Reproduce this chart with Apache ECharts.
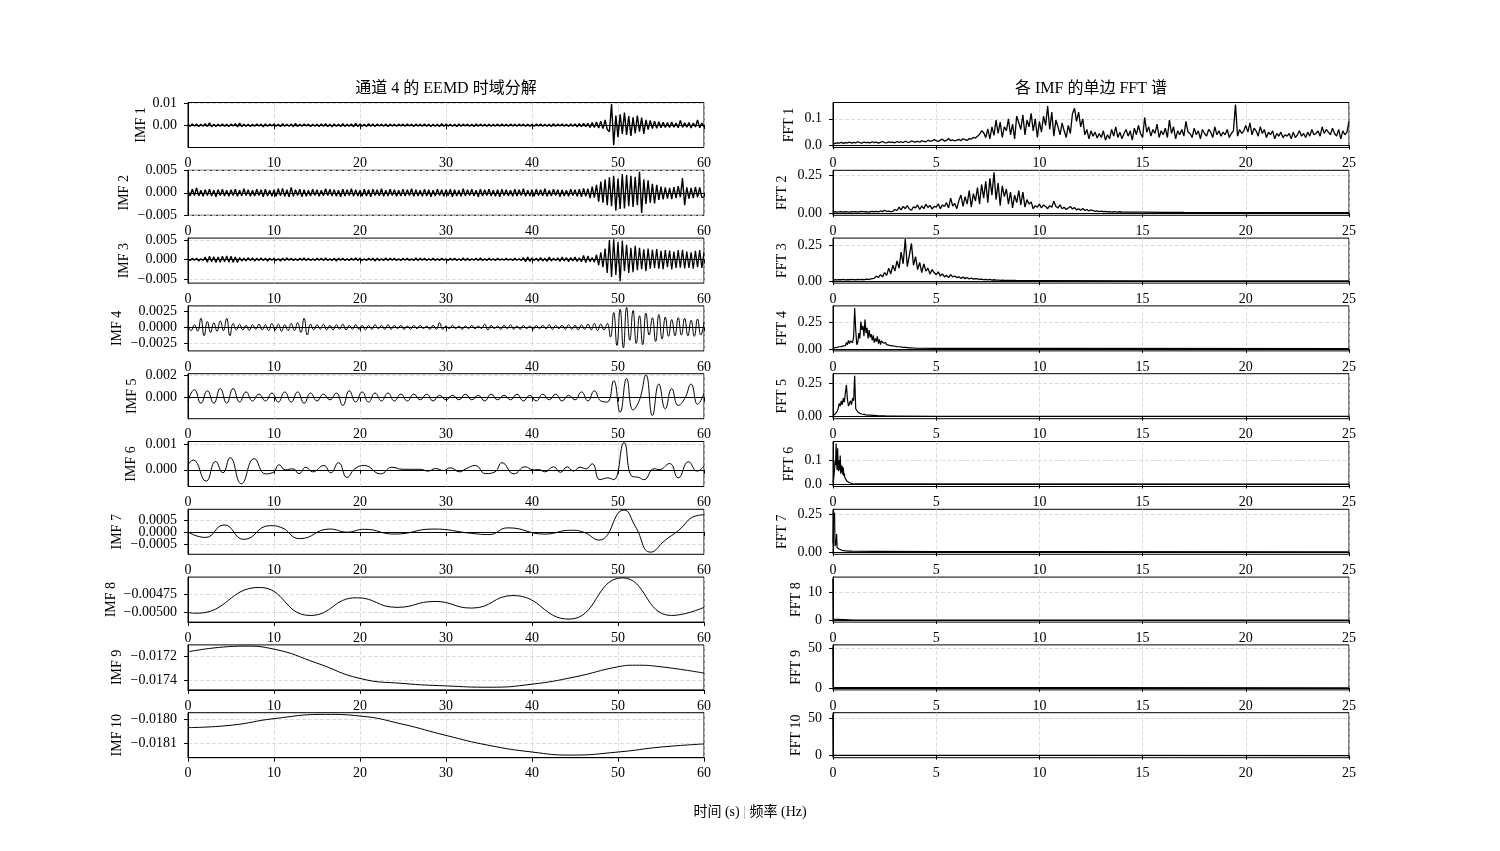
<!DOCTYPE html>
<html>
<head>
<meta charset="utf-8">
<title>EEMD</title>
<script src="https://cdn.jsdelivr.net/npm/echarts@6/dist/echarts.min.js"></script>
<style>
  html, body { margin: 0; padding: 0; background: #fff; }
  #chart { width: 1500px; height: 851px; }
</style>
</head>
<body>
<div id="chart"></div>
<script>
// ---- data ----
// IMF values are in units of 1e-4, FFT1-7 in units of 1e-3, FFT8-10 raw
const imfNames = ["IMF 1", "IMF 2", "IMF 3", "IMF 4", "IMF 5", "IMF 6", "IMF 7", "IMF 8", "IMF 9", "IMF 10"];
const fftNames = ["FFT 1", "FFT 2", "FFT 3", "FFT 4", "FFT 5", "FFT 6", "FFT 7", "FFT 8", "FFT 9", "FFT 10"];

// IMF1-3 sampled every 0.25 s
const imf1 = [
  4,-5,6,-4,5,-6,4,-5,7,-6,11,-7,5,-6,4,-5,6,-5,5,-6,
  5,-4,7,-8,10,-6,5,-5,4,-6,5,-5,6,-4,5,-7,6,-5,5,-4,
  6,-5,5,-6,7,-5,4,-5,6,-7,8,-6,5,-5,6,-4,5,-6,4,-5,
  5,-6,6,-5,7,-6,5,-7,6,-5,5,-6,7,-6,5,-5,6,-7,8,-6,
  6,-5,5,-6,7,-5,6,-6,5,-4,5,-5,6,-6,5,-4,4,-5,5,-4,
  5,-5,6,-4,5,-6,5,-4,4,-5,6,-5,5,-6,4,-5,5,-6,7,-5,
  5,-4,4,-5,5,-6,6,-5,5,-4,5,-5,4,-6,6,-5,5,-4,4,-5,
  5,-5,4,-4,5,-5,6,-4,4,-5,5,-4,4,-5,5,-4,5,-5,4,-4,
  4,-5,5,-4,6,-5,4,-5,5,-6,7,-5,5,-4,6,-5,5,-6,6,-5,
  6,-7,7,-6,8,-7,9,-10,12,-11,15,-13,18,-16,24,-20,-30,98,-92,45,
  -55,50,-40,58,-45,42,-50,36,-38,45,-30,35,-40,25,-20,22,-15,18,-14,16,
  -12,14,-10,12,-11,15,-9,10,-12,22,-10,11,-9,12,-13,10,-8,24,-12,10,
  -8
];
const imf2 = [
  5,-7,8,-6,11,-7,6,-8,7,-6,8,-7,6,-9,7,-6,8,-7,6,-8,
  7,-6,8,-8,6,-7,9,-6,7,-8,6,-7,8,-6,7,-9,8,-7,6,-8,
  7,-8,9,-7,10,-8,7,-9,12,-8,7,-6,8,-9,7,-8,6,-7,8,-6,
  7,-8,6,-7,9,-6,8,-7,7,-8,6,-9,8,-7,7,-6,9,-8,7,-7,
  6,-8,8,-7,7,-9,8,-6,7,-7,9,-8,6,-7,8,-6,7,-8,6,-7,
  8,-7,7,-6,9,-8,7,-7,6,-8,8,-7,7,-9,6,-7,8,-6,7,-8,
  7,-6,8,-9,7,-7,6,-8,9,-7,7,-6,8,-7,6,-9,8,-7,7,-6,
  8,-7,6,-8,7,-9,8,-6,7,-7,6,-8,8,-7,7,-6,9,-8,6,-7,
  7,-8,8,-6,7,-7,9,-8,6,-7,8,-6,7,-9,7,-7,6,-8,8,-6,
  7,-8,8,-9,10,-8,9,-12,14,-11,18,-20,25,-22,30,-28,35,-30,38,-40,
  32,-36,42,-35,40,-30,38,-32,36,-28,47,-45,30,-25,28,-22,20,-24,18,-16,
  14,-15,12,-13,11,-14,13,-12,15,-10,33,-28,12,-13,11,-12,13,-10,12,-11,
  -9
];
const imf3 = [
  2,-3,3,-2,3,-4,2,-3,6,-7,8,-6,7,-8,6,-7,8,-6,9,-7,
  8,-7,6,-8,5,-4,3,-4,5,-3,4,-4,3,-3,4,-3,3,-4,3,-2,
  3,-3,2,-4,3,-3,4,-2,3,-3,2,-3,3,-2,4,-3,3,-3,2,-3,
  3,-2,3,-3,4,-3,2,-3,3,-4,3,-2,3,-3,2,-3,3,-2,4,-3,
  3,-3,2,-3,3,-2,3,-4,3,-3,2,-3,4,-3,3,-2,3,-3,2,-3,
  3,-2,3,-3,2,-3,4,-3,3,-2,3,-3,2,-2,3,-3,2,-3,3,-2,
  2,-3,3,-2,3,-3,2,-3,4,-3,3,-3,2,-2,3,-3,4,-3,2,-3,
  3,-2,2,-3,3,-2,2,-2,3,-2,2,-3,3,-2,2,-3,5,-6,6,-5,
  4,-3,3,-4,5,-4,3,-5,6,-4,3,-3,4,-5,6,-4,5,-6,5,-4,
  6,-5,4,-6,10,-8,9,-6,5,-7,12,-15,18,-20,28,-35,50,-45,52,-40,
  45,-56,48,-30,38,-35,30,-33,35,-28,30,-25,26,-30,28,-24,25,-22,27,-24,
  22,-25,24,-20,23,-26,20,-22,24,-21,25,-23,20,-22,18,-24,22,-20,24,-22,
  18
];
// IMF4 extrema every 0.375 s
const imf4 = [
  2,-5,4,-6,14,-13,9,-8,
  7,-6,10,-5,14,-13,6,-4,
  5,-4,3,-5,4,-3,5,-4,
  4,-5,6,-4,5,-6,4,-5,
  6,-5,7,-8,14,-12,5,-4,
  4,-3,5,-4,3,-4,4,-3,
  5,-4,3,-3,4,-3,3,-4,
  3,-3,4,-2,3,-3,4,-3,
  3,-2,3,-3,2,-3,3,-2,
  3,-2,2,-3,3,-3,7,-3,
  2,-2,3,-2,2,-3,2,-2,
  3,-2,2,-2,5,-4,3,-2,
  2,-3,3,-2,4,-3,2,-3,
  3,-2,2,-3,3,-2,3,-2,
  4,-3,3,-2,3,-3,4,-3,
  3,-4,4,-3,5,-4,6,-5,
  5,-4,6,-15,23,-28,28,-32,
  31,-20,26,-25,18,-27,22,-12,
  15,-22,20,-18,16,-14,12,-13,
  15,-12,14,-13,11,-14,13,-12,
  8
];
// IMF5 extrema every 0.75 s
const imf5 = [
  -3,7,-5,6,-5,8,-5,8,-4,5,
  -3,3,-3,4,-4,5,-4,5,-5,4,
  -3,3,-2,4,-7,6,-4,5,-4,4,
  -3,4,-3,3,-3,3,-2,3,-3,2,
  -2,2,-2,3,-2,2,-3,3,-2,2,
  -2,3,-3,2,-3,3,-2,3,-3,2,
  -2,5,-3,6,-3,-4,15,-13,17,-11,
  -2,20,-16,12,-10,8,-7,-1,12,-6,4
];
// IMF6-10 as [time s, value]
const imf6 = [[0,2],[0.6,3.9],[2.1,-4.5],[3.2,3.3],[4.05,-1.2],[4.9,4.8],[6.2,-5.5],[7.7,4.4],[9.0,-1.6],[9.9,-1.0],
  [10.6,2.0],[11.3,0],[12.2,0.4],[12.9,-1.5],[13.7,1.0],[14.5,-0.8],[15.8,1.7],[16.6,-1.2],[17.5,2.8],[18.5,-3.0],
  [19.4,0.4],[20.5,1.7],[22.4,-1.6],[23.7,1.0],[25,0.2],[27,0.2],[27.9,-0.5],[28.8,0.5],[29.7,-0.3],[30.5,0.8],
  [31.6,-0.8],[32.3,0.4],[33.4,1.7],[34.6,-1.5],[35.7,-0.8],[36.5,2.8],[37.9,-1.6],[39.2,1.2],[40.1,0],[40.8,0.1],
  [41.5,-0.8],[42.5,1.2],[43.3,-1.0],[44.1,1.2],[44.8,-0.5],[45.6,1.0],[46.3,0.4],[47.0,2.4],[47.9,-3.9],[48.8,-3.2],
  [49.5,-3.9],[50.7,10.8],[51.6,-2.5],[52.4,-3.0],[53.0,-3.9],[54.2,0.4],[54.8,0.1],[56.0,2.5],[57.0,-3.2],[58.2,3.2],
  [59.2,-0.5],[60,1.5]];
const imf7 = [[0,0],[2,-2.2],[4.2,3],[6.5,-3],[9.5,2.7],[10.8,2],[13,-2.7],[16.5,1.3],[18.5,0],[20.5,1.2],
  [24,-0.8],[28.5,1.3],[33,-0.5],[35,-1],[37.2,1.8],[41.5,-0.8],[44.5,0.8],[46,0],[47.8,-3.3],[50.7,9.2],
  [52,2.5],[53.8,-8.3],[55.5,-3.3],[57,0.6],[59,6.7],[60,7.2]];
const imf8 = [[0,-50],[1,-50.1],[8.3,-46.6],[14.2,-50.4],[19.6,-48],[24.3,-49.3],[28.7,-48.5],[33,-49.4],
  [37.8,-47.7],[44.3,-50.9],[50.5,-45.3],[56.2,-50.4],[60,-49.3]];
const imf9 = [[0,-171.67],[6.5,-171.2],[10,-171.45],[15,-172.6],[20,-173.86],[25,-174.27],[30,-174.47],
  [35,-174.58],[40,-174.33],[45,-173.73],[50,-172.9],[52,-172.77],[55,-172.9],[60,-173.42]];
const imf10 = [[0,-180.35],[5,-180.25],[10,-179.97],[16,-179.79],[20,-179.86],[25,-180.21],[30,-180.68],
  [35,-181.1],[40,-181.38],[44.5,-181.51],[50,-181.38],[55,-181.17],[60,-181.04]];

// FFT spectra: uniform head + sparse tail [Hz, value]
const fft1 = [
  5,8,10,9,12,8,11,10,13,9, 12,10,14,11,9,13,11,12,10,14,
  11,13,9,12,15,11,10,14,12,13, 10,15,12,14,11,16,13,12,17,14,
  13,16,12,18,15,14,20,16,17,22, 18,15,20,24,16,19,26,18,21,17,
  20,23,18,25,22,19,26,24,30,28, 35,42,55,48,30,62,25,70,38,95,
  45,88,30,70,55,100,40,80,25,110, 85,60,115,40,95,70,120,55,100,30,
  90,50,110,75,148,60,125,35,95,70, 40,85,55,30,75,45,118,140,90,125,
  70,100,40,60,25,55,35,50,28,45, 30,55,20,40,25,60,35,70,30,50,
  25,45,60,35,55,20,65,40,75,45, 30,105,50,70,35,60,45,80,30,55,
  40,65,30,95,45,70,25,55,40,60, 35,90,50,45,30,65,40,55,25,60,
  45,35,60,50,30,70,40,55,35,50, 40,60,30,45,55,153,35,60,45,55,
  75,50,85,40,65,55,35,70,45,60, 30,50,40,55,25,45,35,50,30,40,
  35,45,25,50,30,40,55,35,45,30, 50,35,60,40,45,55,35,70,45,60,
  50,40,65,45,35,60,25,55,40,50, 90
];
const fft2 = [
  8,10,7,9,11,8,10,9,7,10, 9,11,8,10,12,9,11,8,10,12,
  10,13,9,15,11,20,12,14,10,13, 25,18,40,22,45,30,50,28,20,42,
  35,55,25,48,30,60,38,52,28,45, 40,62,30,55,45,70,35,100,48,65,
  30,85,120,45,110,60,150,40,130,80, 170,60,190,100,210,70,230,120,270,90,
  200,50,180,110,160,60,140,35,120,70, 150,55,140,40,90,60,75,30,50,40,
  60,35,55,45,30,50,40,80,45,35, 55,30,40,25,35,45,28,38,22,30,
  20,32,18,25,15,22,18,12,16,10, 14,10,12,9,11,8,10,9,8,10,
  8
];
const fft2Tail = [[15,7],[16,6],[17,5],[20,4],[25,4]];
const fft3 = [
  8,10,9,11,10,12,9,11,10,12, 11,10,13,11,12,10,14,12,15,18,
  20,35,25,45,30,60,40,90,50,110, 70,140,90,200,120,290,100,180,260,110,
  170,80,130,60,120,70,90,50,80,60, 45,65,35,50,30,40,25,45,30,35,
  25,30,20,28,18,25,15,22,14,18, 16,12,15,10,13,9,12,8,10,8,
  7,6,7,5,6,5,6,5,5,4, 4
];
const fft3Tail = [[10,4],[15,3],[25,3]];
const fft4 = [
  5,10,12,15,14,18,20,16,22,25, 28,35,30,60,40,80,50,75,90,60,
  120,390,180,40,60,150,100,260,180,220, 120,280,150,200,100,180,110,140,80,130,
  60,100,70,120,50,90,40,75,60,55, 45,60,40,55,35,50,30,45,28,35,
  25,40,22,30,20,28,18,25,15,20, 14,16,12,13,10,11,9,10,8,8,
  7
];
const fft4Tail = [[5,5],[10,4],[25,3]];
const fft5 = [
  8,12,18,20,40,60,100,80,120,90, 140,110,180,240,130,80,100,120,90,140,
  120,310,60,45,35,30,25,22,20,18, 17,15,14,16,12,13,11,12,10,10,
  9,9,8,8,7,7,7,6,6,6, 6,5,5,5,5,5,5,4,4,4,
  4
];
const fft5Tail = [[5,3],[25,2]];
const fft6 = [
  10,20,40,60,100,80,170,90,60,150, 70,55,100,60,120,45,80,50,75,40,
  70,35,45,28,30,20,18,14,12,10, 9,8,7,6,5,5,4,4,3,3,
  3,3,2,2,2,2,2,2,2,2, 2
];
const fft6Tail = [[2,2],[25,1]];
const fft7 = [
  60,270,200,260,40,80,50,120,30,20, 25,18,22,15,18,14,15,13,12,12,
  11,11,10,10,10,9,9,9,9,8, 8,8,8,8,7,7,7,7,7,7,
  7
];
const fft7Tail = [[2,6],[5,5],[10,4],[25,3]];
const fft8 = [[0,14.7],[0.017,0.3],[0.05,0.05],[1,0.02],[25,0.01]];
const fft9 = [[0,52.0],[0.017,0.5],[0.05,0.1],[25,0.02]];
const fft10 = [[0,54.3],[0.017,0.8],[0.05,0.1],[25,0.02]];

// axis limits and ticks
const imfYMin = [-0.0103, -0.00505, -0.0061, -0.00366, -0.00188, -0.00066, -0.00092, -0.00513, -0.01748, -0.018162];
const imfYMax = [0.0105, 0.00505, 0.0055, 0.00333, 0.00212, 0.00112, 0.00095, -0.00452, -0.01711, -0.017972];
const imfTicks = [[0, 0.01], [-0.005, 0, 0.005], [-0.005, 0, 0.005], [-0.0025, 0, 0.0025], [0, 0.002],
  [0, 0.001], [-0.0005, 0, 0.0005], [-0.005, -0.00475], [-0.0174, -0.0172], [-0.0181, -0.018]];
const imfDecimals = [2, 3, 3, 4, 3, 3, 4, 5, 4, 4];
const fftYMin = [-0.0075, -0.0135, -0.013, -0.0195, -0.0155, -0.0085, -0.0135, -0.74, -2.6, -2.72];
const fftYMax = [0.161, 0.2835, 0.297, 0.41, 0.325, 0.1785, 0.2835, 15.5, 54.7, 57.0];
const fftTicks = [[0, 0.1], [0, 0.25], [0, 0.25], [0, 0.25], [0, 0.25], [0, 0.1], [0, 0.25], [0, 10], [0, 50], [0, 50]];
const fftDecimals = [1, 2, 2, 2, 2, 1, 2, 0, 0, 0];

// ---- build ----
const E4 = 1e-4, E3 = 1e-3;
function uniform(vals, step, scale) {
  return vals.map((v, i) => [+(i * step).toFixed(4), v * scale]);
}
function scaled(pairs, scale) {
  return pairs.map(p => [p[0], p[1] * scale]);
}

const imfData = [
  uniform(imf1, 0.25, E4), uniform(imf2, 0.25, E4), uniform(imf3, 0.25, E4),
  uniform(imf4, 0.375, E4), uniform(imf5, 0.75, E4),
  scaled(imf6, E4), scaled(imf7, E4), scaled(imf8, E4), scaled(imf9, E4), scaled(imf10, E4)
];
const imfSmooth = [false, false, false, 0.5, 0.5, 0.5, 0.5, 0.5, 0.5, 0.5];
const fftData = [
  uniform(fft1, 0.1, E3),
  uniform(fft2, 0.1, E3).concat(scaled(fft2Tail, E3)),
  uniform(fft3, 0.1, E3).concat(scaled(fft3Tail, E3)),
  uniform(fft4, 0.05, E3).concat(scaled(fft4Tail, E3)),
  uniform(fft5, 0.05, E3).concat(scaled(fft5Tail, E3)),
  uniform(fft6, 0.025, E3).concat(scaled(fft6Tail, E3)),
  uniform(fft7, 0.025, E3).concat(scaled(fft7Tail, E3)),
  fft8, fft9, fft10
];

const FONT = "'Liberation Serif', 'Noto Sans CJK SC', serif";
const LEFT_X = 188, RIGHT_X = 833, PLOT_W = 516, PLOT_H = 45, ROW0 = 102.5, ROW_STEP = 67.8;
const imfNameGap = [40, 57, 57, 64, 49, 50, 64, 70, 64, 64];
const fftNameGap = [37, 44, 44, 44, 44, 37, 44, 30, 30, 30];
const imfWidth = [1.4, 1.4, 1.3, 1, 1, 1, 1, 1, 1, 1];
const fftWidth = [1.3, 1.3, 1.3, 1.2, 1.2, 1.2, 1.2, 1.2, 1.2, 1.2];

const gridLine = { show: true, lineStyle: { color: "#d4d4d4", type: [4, 2], width: 0.8 } };
const axisLine = { show: true, lineStyle: { color: "#000", width: 1 } };
const tickStyle = { show: true, length: 4, lineStyle: { color: "#000", width: 1 } };
const labelStyle = { color: "#000", fontSize: 14, fontFamily: FONT };

function fmt(d) {
  return v => v.toFixed(d).replace("-", "\u2212");
}

const grids = [], xAxes = [], yAxes = [], series = [];

function yAxisFor(k, ymin, ymax, ticks, dec) {
  return {
    gridIndex: k, type: "value", position: "left", offset: 0,
    min: ymin, max: ymax,
    axisLine, axisTick: { ...tickStyle, customValues: ticks },
    axisLabel: { ...labelStyle, margin: 11, customValues: ticks, formatter: fmt(dec) },
    splitLine: gridLine
  };
}

function addPanel(col, row, data, smooth, width, ymin, ymax, ticks, dec, name, gap) {
  const k = grids.length;
  const isLeft = col === 0;
  grids.push({
    left: isLeft ? LEFT_X : RIGHT_X, top: ROW0 + row * ROW_STEP,
    width: PLOT_W, height: PLOT_H, containLabel: false,
    show: true, borderColor: "#000", borderWidth: 1
  });
  xAxes.push({
    gridIndex: k, type: "value",
    min: 0, max: isLeft ? 60 : 25, interval: isLeft ? 10 : 5,
    axisLine, axisTick: tickStyle,
    axisLabel: { ...labelStyle, margin: 9, showMinLabel: true, showMaxLabel: true },
    splitLine: gridLine
  });
  // ticks alternate between two left axes on the same grid so close labels are never dropped
  const evenTicks = ticks.filter((_, i) => i % 2 === 0);
  const oddTicks = ticks.filter((_, i) => i % 2 === 1);
  const yIndex = yAxes.length;
  yAxes.push({
    ...yAxisFor(k, ymin, ymax, evenTicks, dec),
    name, nameLocation: "middle", nameGap: gap,
    nameTextStyle: { color: "#000", fontSize: 14, fontFamily: FONT }
  });
  yAxes.push(yAxisFor(k, ymin, ymax, oddTicks, dec));
  series.push({
    type: "line", xAxisIndex: k, yAxisIndex: yIndex, data,
    smooth, showSymbol: false, symbol: "none",
    lineStyle: { color: "#000", width }, clip: true
  });
}

for (let i = 0; i < 10; i++) {
  addPanel(0, i, imfData[i], imfSmooth[i], imfWidth[i], imfYMin[i], imfYMax[i], imfTicks[i], imfDecimals[i], imfNames[i], imfNameGap[i]);
}
for (let i = 0; i < 10; i++) {
  addPanel(1, i, fftData[i], false, fftWidth[i], fftYMin[i], fftYMax[i], fftTicks[i], fftDecimals[i], fftNames[i], fftNameGap[i]);
}

const chart = echarts.init(document.getElementById("chart"));
chart.setOption({
  animation: false,
  backgroundColor: "#fff",
  grid: grids, xAxis: xAxes, yAxis: yAxes, series,
  graphic: [
    { type: "text", x: LEFT_X + PLOT_W / 2, y: 89,
      style: { text: "通道 4 的 EEMD 时域分解", fontSize: 16, fontFamily: FONT, fill: "#000", align: "center", verticalAlign: "middle" } },
    { type: "text", x: RIGHT_X + PLOT_W / 2, y: 89,
      style: { text: "各 IMF 的单边 FFT 谱", fontSize: 16, fontFamily: FONT, fill: "#000", align: "center", verticalAlign: "middle" } },
    { type: "text", x: 750, y: 812,
      style: {
        text: "时间 (s) {g||} 频率 (Hz)", fontSize: 14, fontFamily: FONT, fill: "#000",
        align: "center", verticalAlign: "middle",
        rich: { g: { fill: "#aaa", fontSize: 14, fontFamily: FONT } }
      } }
  ]
});
</script>
</body>
</html>
